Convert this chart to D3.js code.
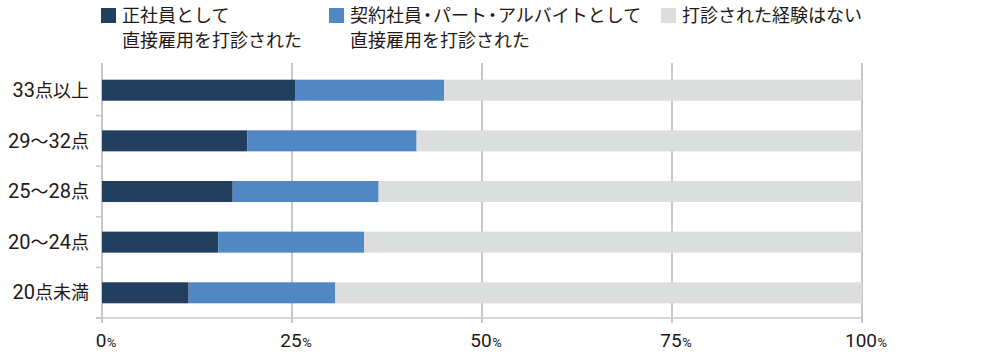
<!DOCTYPE html>
<html>
<head>
<meta charset="utf-8">
<script src="https://cdn.jsdelivr.net/npm/d3@7"></script>
<style>
body { margin: 0; background: #fff; }
svg { display: block; font-family: "Noto Sans CJK JP", "Noto Sans", sans-serif; }
</style>
</head>
<body>
<svg width="1000" height="360"></svg>
<script>
var categories = ['33点以上', '29〜32点', '25〜28点', '20〜24点', '20点未満'];
var seriesNames = [
    ['正社員として', '直接雇用を打診された'],
    ['契約社員・パート・アルバイトとして', '直接雇用を打診された'],
    ['打診された経験はない']
];
var fullTime = [25.4, 19.1, 17.2, 15.3, 11.4];
var contract = [19.6, 22.3, 19.2, 19.2, 19.3];
var never = [55.0, 58.6, 63.6, 65.5, 69.3];
var tickValues = [0, 25, 50, 75, 100];
var colors = ['#233f60', '#5287c6', '#dcdddd'];

var svg = d3.select('svg');
var x = d3.scaleLinear().domain([0, 100]).range([102, 862]);
var y = d3.scaleBand().domain(categories).range([65, 318]).paddingInner(0.585).paddingOuter(0.29);
var yb = d3.scaleBand().domain(categories).range([65, 318]);

var rows = categories.map(function(c, i) {
    return {cat: c, a: fullTime[i], b: contract[i], c: never[i]};
});
var stacked = d3.stack().keys(['a', 'b', 'c'])(rows);

// gridlines
svg.append('g')
    .selectAll('line')
    .data(tickValues)
    .enter()
    .append('line')
    .attr('x1', x)
    .attr('x2', x)
    .attr('y1', 63)
    .attr('y2', 323)
    .style('stroke', '#b5b5b5')
    .style('stroke-width', '1.5px');

// bottom axis line
svg.append('line')
    .attr('x1', 96).attr('x2', x(100))
    .attr('y1', 318).attr('y2', 318)
    .style('stroke', '#c8c8c8')
    .style('stroke-width', '1.5px');

// left ticks at band boundaries
svg.append('g')
    .selectAll('line')
    .data(categories)
    .enter()
    .append('line')
    .attr('x1', 96).attr('x2', x(0))
    .attr('y1', function(d) { return yb(d) + yb.bandwidth(); })
    .attr('y2', function(d) { return yb(d) + yb.bandwidth(); })
    .style('stroke', '#c8c8c8')
    .style('stroke-width', '1.5px');

// bars
svg.append('g')
    .selectAll('g')
    .data(stacked)
    .enter()
    .append('g')
    .attr('fill', function(d, i) { return colors[i]; })
    .selectAll('rect')
    .data(function(d) { return d; })
    .enter()
    .append('rect')
    .attr('x', function(d) { return x(d[0]); })
    .attr('width', function(d) { return x(d[1]) - x(d[0]); })
    .attr('y', function(d) { return y(d.data.cat); })
    .attr('height', y.bandwidth());

// category labels (digits a little larger, like the reference)
svg.append('g')
    .selectAll('text')
    .data(categories)
    .enter()
    .append('text')
    .attr('x', 89)
    .attr('y', function(d) { return y(d) + y.bandwidth() / 2; })
    .attr('dy', '0.37em')
    .attr('text-anchor', 'end')
    .style('font-size', '18px')
    .style('fill', '#231815')
    .selectAll('tspan')
    .data(function(d) { return d.match(/[0-9]+|[^0-9]+/g); })
    .enter()
    .append('tspan')
    .style('font-family', function(d) { return /[0-9]/.test(d) ? 'Roboto, sans-serif' : null; })
    .style('font-size', function(d) { return /[0-9]/.test(d) ? '20px' : null; })
    .text(function(d) { return d; });

// x tick labels
var tg = svg.append('g')
    .selectAll('g')
    .data(tickValues)
    .enter()
    .append('g');
tg.append('text')
    .attr('class', 'num')
    .attr('x', function(d) { return x(d) - 1; })
    .attr('y', 347)
    .attr('text-anchor', 'middle')
    .style('font-size', '19px')
    .style('font-family', 'Roboto, sans-serif')
    .style('fill', '#231815')
    .text(function(d) { return d; });
tg.each(function(d) {
    var g = d3.select(this);
    var w = g.select('text.num').node().getComputedTextLength();
    g.append('text')
        .attr('x', x(d) - 1 + w / 2 + 0.5)
        .attr('y', 347)
        .style('font-size', '13px')
        .style('font-family', 'Roboto, sans-serif')
        .style('fill', '#231815')
        .text('%');
});

// legend
var legendX = [101, 329, 661];
var lg = svg.append('g')
    .selectAll('g')
    .data(seriesNames)
    .enter()
    .append('g')
    .attr('transform', function(d, i) { return 'translate(' + legendX[i] + ',0)'; });
lg.append('rect')
    .attr('x', 0).attr('y', 8)
    .attr('width', 15).attr('height', 15)
    .attr('fill', function(d, i) { return colors[i]; });
lg.each(function(lines) {
    var g = d3.select(this);
    lines.forEach(function(line, li) {
        var t = g.append('text')
            .attr('x', 21)
            .attr('y', 22 + li * 25)
            .style('font-size', '18px')
            .style('fill', '#231815');
        // narrow middle dots (proportional glyphs), as in the reference typesetting
        var parts = line.split('・');
        parts.forEach(function(p, pi) {
            if (pi > 0) {
                t.append('tspan')
                    .attr('dx', 1)
                    .style('font-feature-settings', '"palt" 1')
                    .text('・');
            }
            t.append('tspan').attr('dx', pi > 0 ? 1 : 0).text(p);
        });
    });
});
</script>
</body>
</html>
